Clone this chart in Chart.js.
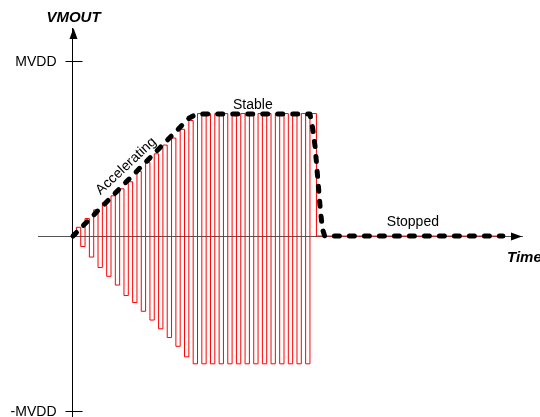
<!DOCTYPE html>
<html>
<head>
<meta charset="utf-8">
<script src="https://cdn.jsdelivr.net/npm/chart.js@4.4.0/dist/chart.umd.min.js"></script>
<style>
    body { margin: 0; background: #ffffff; }
    .wrap { width: 540px; height: 417px; position: relative; }
</style>
</head>
<body>
<div class="wrap"><canvas id="chart"></canvas></div>
<script>
// pulse amplitudes in % of MVDD, one value per pulse (time unit = half a pulse period)
const posAmp = [5, 10, 15, 19, 23, 27, 31, 37, 42, 47, 52, 56, 61, 66,
                70, 70, 70, 70, 70, 70, 70, 70, 70, 70, 70, 70, 70, 70];
const negAmp = [6, 12, 18, 23, 28, 34, 38, 43, 48, 53, 58, 63, 69,
                73, 73, 73, 73, 73, 73, 73, 73, 73, 73, 73, 73, 73, 73];
const stopT = 55.5;
const endT = 98.6;

// dashed envelope (time, % of MVDD)
const envT = [-0.79, 26.0, 27.4, 28.9, 54.0, 54.6, 55.2, 56.4, 56.9, 57.4, 98.6];
const envV = [0, 67.3, 69.2, 69.7, 69.7, 62, 51, 15, 4, 0, 0];

const yTicks = [100, -100];
const yLabels = ['MVDD', '-MVDD'];

const FONT = "'Liberation Sans', Arial, sans-serif";

const wave = [{ x: 0, y: 0 }];
posAmp.forEach((p, k) => {
    wave.push({ x: 2 * k, y: p });
    if (k < negAmp.length) wave.push({ x: 2 * k + 1, y: -negAmp[k] });
});
wave.push({ x: stopT, y: 0 }, { x: endT, y: 0 });

const envelope = envT.map((t, i) => ({ x: t, y: envV[i] }));

const notes = [
    { text: 'Accelerating', t: 11.5, v: 40, angle: -43, base: 'middle' },
    { text: 'Stable', t: 40.8, v: 72.4, angle: 0, base: 'alphabetic' },
    { text: 'Stopped', t: 77.8, v: 5.7, angle: 0, base: 'alphabetic' }
];

const extras = {
    id: 'extras',
    afterDraw(chart) {
        const { ctx, chartArea } = chart;
        const xs = chart.scales.x, ys = chart.scales.y;
        const ax = Math.round(xs.getPixelForValue(-0.79)) + 0.5;
        const ay = Math.round(ys.getPixelForValue(0)) + 0.5;
        ctx.save();

        // tick marks crossing the y axis, with their labels
        ctx.strokeStyle = '#000';
        ctx.fillStyle = '#000';
        ctx.lineWidth = 1;
        ctx.font = '14px ' + FONT;
        ctx.textAlign = 'right';
        ctx.textBaseline = 'middle';
        yTicks.forEach((v, i) => {
            const py = Math.round(ys.getPixelForValue(v)) + 0.5;
            ctx.beginPath();
            ctx.moveTo(ax - 8, py);
            ctx.lineTo(ax + 9, py);
            ctx.stroke();
            ctx.fillText(yLabels[i], ax - 17, py + 1);
        });

        // arrow heads
        ctx.beginPath();
        ctx.moveTo(ax, chartArea.top);
        ctx.lineTo(ax - 4, chartArea.top + 11);
        ctx.lineTo(ax + 4, chartArea.top + 11);
        ctx.closePath();
        ctx.fill();
        ctx.beginPath();
        ctx.moveTo(chartArea.right, ay);
        ctx.lineTo(chartArea.right - 11, ay - 4);
        ctx.lineTo(chartArea.right - 11, ay + 4);
        ctx.closePath();
        ctx.fill();

        // axis titles
        ctx.font = 'italic bold 15px ' + FONT;
        ctx.textBaseline = 'alphabetic';
        ctx.textAlign = 'center';
        ctx.fillText('VMOUT', ax, 22);
        ctx.textAlign = 'left';
        ctx.fillText('Time', chartArea.right - 15, 262);

        // phase labels
        ctx.font = '14px ' + FONT;
        ctx.textAlign = 'center';
        notes.forEach(n => {
            ctx.save();
            ctx.translate(xs.getPixelForValue(n.t), ys.getPixelForValue(n.v));
            ctx.rotate(n.angle * Math.PI / 180);
            ctx.textBaseline = n.base;
            ctx.fillText(n.text, 0, 0);
            ctx.restore();
        });
        ctx.restore();
    }
};

new Chart(document.getElementById('chart'), {
    type: 'line',
    data: {
        datasets: [{
            label: 'Envelope',
            data: envelope,
            borderColor: '#000000',
            borderWidth: 5,
            borderDash: [5, 10],
            borderCapStyle: 'round',
            borderJoinStyle: 'round',
            tension: 0,
            pointRadius: 0
        },
        {
            label: 'VMOUT',
            data: wave,
            borderColor: '#ff0000',
            borderWidth: 1,
            stepped: true,
            pointRadius: 0
        }]
    },
    plugins: [extras],
    options: {
        responsive: true,
        maintainAspectRatio: false,
        animation: false,
        events: [],
        layout: {
            padding: { left: 38, right: 18, top: 28, bottom: 0 }
        },
        scales: {
            x: {
                type: 'linear',
                min: -8.88,
                max: 103.03,
                position: { y: 0 },
                grid: { display: false, drawTicks: false },
                border: { display: true, color: '#555555', width: 1 },
                ticks: { display: false },
                afterFit: (s) => { s.paddingLeft = 0; s.paddingRight = 0; s.paddingTop = 0; s.paddingBottom = 0; }
            },
            y: {
                type: 'linear',
                min: -103.4,
                max: 118.9,
                position: { x: -0.79 },
                grid: { display: false, drawTicks: false },
                border: { display: true, color: '#000000', width: 1 },
                ticks: { display: false },
                afterFit: (s) => { s.paddingTop = 0; s.paddingBottom = 0; }
            }
        },
        plugins: {
            legend: { display: false },
            tooltip: { enabled: false }
        }
    }
});
</script>
</body>
</html>
